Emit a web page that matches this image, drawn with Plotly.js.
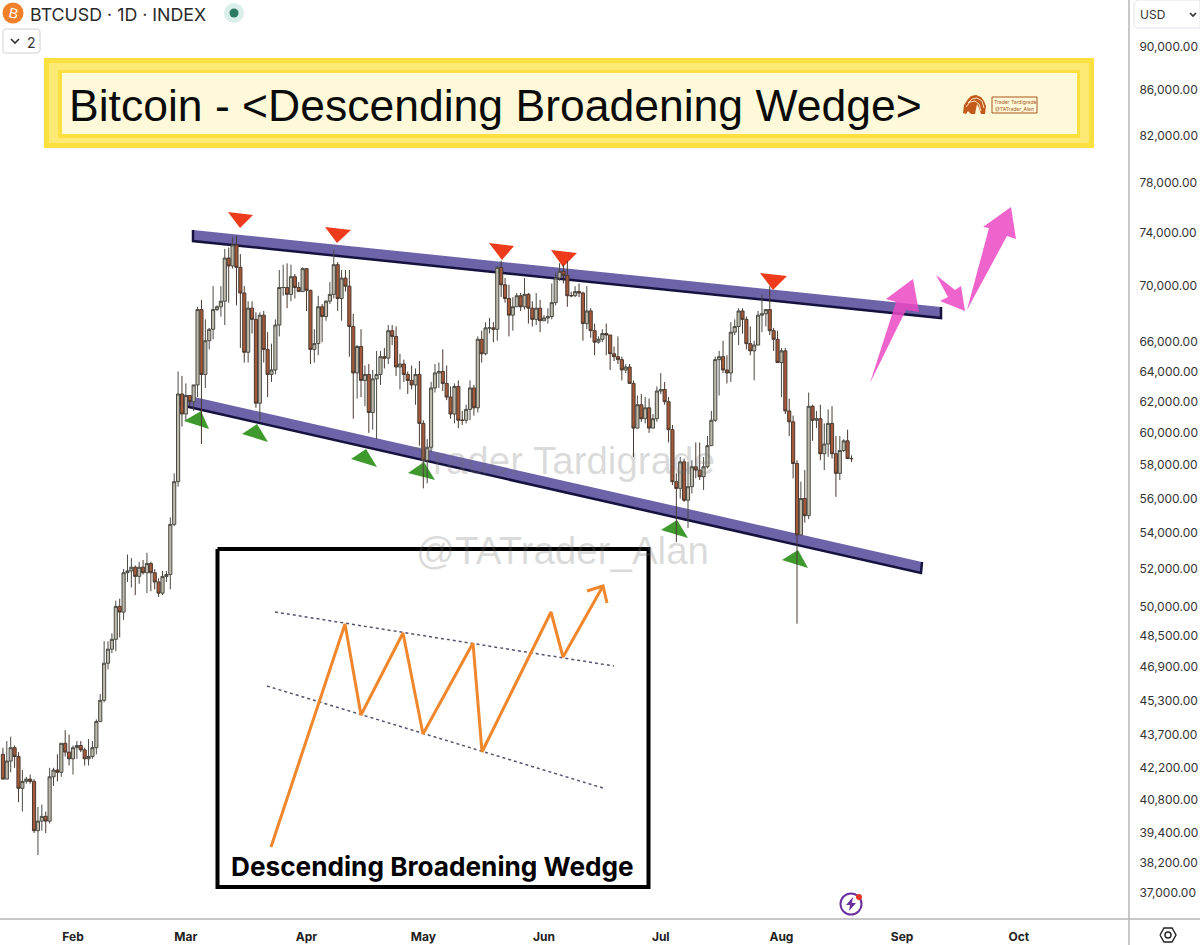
<!DOCTYPE html>
<html><head><meta charset="utf-8">
<script src="https://cdn.plot.ly/plotly-3.0.1.min.js"></script>
<style>html,body{margin:0;padding:0;background:#fff}#chart{width:1200px;height:945px}</style>
</head><body><div id="chart"></div>
<script>
// ---------- daily candles, Jan 14 to Aug 19 2024 ----------
const firstDay = [2024, 0, 14];
const opens = [
42800,41700,42500,43100,42700,41300,41600,41700,41600,39500,39900,40100,39900,41800,42100,42000,43300,42900,
42600,43100,43200,43000,42600,42700,43100,44300,45300,47100,47800,48300,50000,49700,51800,51900,52100,51600,52100,51800,52300,51800,51300,50700,51600,51700,54500,57000,62500,
61200,62400,62000,63100,68300,63800,66100,66900,68300,68500,68900,72100,71500,73100,71400,69500,65300,68400,67600,61900,67900,65500,63800,64100,67200,69900,69900,69400,70700,69900,69600,
71300,69700,65500,65900,68500,67800,68900,69400,71600,69100,70600,70000,67100,63900,65700,63400,63800,61300,63500,63800,65000,64900,66800,66400,64300,64500,63800,63400,63100,63800,
60600,58300,59100,62900,63900,64000,63200,62300,61200,63000,60800,60800,61500,62900,61600,66200,65200,67000,67000,66900,71400,70100,69100,67900,68500,69300,68500,69400,68400,67600,68400,
67500,67700,67800,68800,70600,71100,70800,69300,69300,69600,69500,67300,68200,66800,66000,66200,66600,66500,65200,65000,64800,64100,64300,63200,60300,61800,60900,61600,60300,60900,
62700,62800,62000,60200,57000,56600,58200,55900,56700,57900,57700,57300,57900,59200,60800,64800,65000,64100,63900,66700,67100,68200,67600,65900,65400,65800,67900,68000,68300,66800,66200,
64600,65400,61400,60700,58100,53900,56000,55000,61700,60800,60900,58700,59300,60600,58700,57500,58900,59500,58400];
const highs = [
43100,43400,43600,43200,42900,42100,41800,41900,41700,40500,40600,40300,42200,42200,42800,43300,43900,43700,
43200,43400,43400,43100,43500,43400,44400,45600,48200,48200,48600,50300,50400,52000,52800,52600,52200,52400,52500,52900,52400,52000,51500,51900,51900,54900,57500,64000,63700,
63200,62400,63100,68500,69000,67600,67000,70000,68600,70000,72800,72900,73700,73800,72400,70000,68900,68900,68100,68100,68200,66700,65900,67600,71200,71600,71700,71600,70900,70300,71400,
71300,69700,66900,69300,68700,69000,70300,72700,71800,71200,71200,71200,68000,65800,66900,64400,64500,64100,65400,65400,65600,67200,67200,67100,65200,64800,64000,64400,64200,64700,
60800,59600,63300,64500,64600,65500,64400,63000,63200,63400,61400,61800,63400,63100,66400,66800,67400,67700,67400,71500,71900,70600,70100,69200,69500,69500,70600,69500,68900,69500,69000,
67900,68400,70200,71000,71700,71600,71900,69600,70000,70200,69600,70000,68400,67300,66400,66900,67300,66500,65700,66400,65000,64500,64500,63400,62400,62500,62300,62200,61200,63000,
63900,63300,62300,60500,57500,58500,58400,58200,58300,59400,59400,58500,59800,61400,65000,65400,66100,65100,67400,67600,68400,68400,67800,67100,66100,68200,69400,68300,70000,67000,66800,
65600,65600,62200,61100,58300,57000,57700,62600,61800,61400,61800,60600,61500,61700,59800,59800,59600,60200,58600];
const lows = [
41700,41700,42000,42200,40700,40300,41500,41500,39400,38500,39500,39400,39800,41400,41600,41800,42700,42300,
41900,42600,42900,42300,42300,42600,42800,44300,45200,46800,47600,47700,48400,49300,51300,51000,50600,51200,51700,50700,50800,50900,50500,50600,51300,50900,54400,56700,60400,
60800,61700,61400,62300,59300,62900,65500,66200,68200,67800,67200,68800,71300,68600,65600,64600,64600,66600,61600,60800,64600,62300,63300,63800,66400,69300,68400,68900,69100,69600,69600,
68200,64500,64600,65100,66000,67500,68700,69100,68200,67500,69600,65000,60900,62200,62300,61700,60000,60200,59600,63100,64200,64500,65800,63700,62800,63300,62500,62800,61800,59200,
56600,56900,58800,62600,62900,62700,62100,60900,60600,60300,60500,60600,60800,61100,61300,64600,65100,66600,66000,66100,69200,68800,66400,66800,68500,68200,68300,67300,67100,67200,66700,
67500,67300,67600,68600,70400,70200,68500,69200,69200,69200,66100,66900,66300,65100,65900,66000,65100,64100,64700,64500,63400,63900,63200,58500,60300,60700,60600,60000,60300,60700,
62500,61800,59400,56800,53500,56000,55800,54300,56300,57200,57100,56500,57800,59200,60700,62400,63900,63200,63300,66500,65800,66600,65500,65100,63400,65800,66700,67100,66500,65400,64600,
62300,61200,59800,57200,49100,53900,54600,54800,59500,60300,58300,57700,58500,58400,56100,57100,58800,58400,58200];
const closes = [
41700,42500,43100,42700,41300,41600,41700,41600,39500,39900,40100,39900,41800,42100,42000,43300,42900,42600,
43100,43200,43000,42600,42700,43100,44300,45300,47100,47800,48300,50000,49700,51800,51900,52100,51600,52100,51800,52300,51800,51300,50700,51600,51700,54500,57000,62500,61200,
62400,62000,63100,68300,63800,66100,66900,68300,68500,68900,72100,71500,73100,71400,69500,65300,68400,67600,61900,67900,65500,63800,64100,67200,69900,69900,69400,70700,69900,69600,71300,
69700,65500,65900,68500,67800,68900,69400,71600,69100,70600,70000,67100,63900,65700,63400,63800,61300,63500,63800,65000,64900,66800,66400,64300,64500,63800,63400,63100,63800,60600,
58300,59100,62900,63900,64000,63200,62300,61200,63000,60800,60800,61500,62900,61600,66200,65200,67000,67000,66900,71400,70100,69100,67900,68500,69300,68500,69400,68400,67600,68400,67500,
67700,67800,68800,70600,71100,70800,69300,69300,69600,69500,67300,68200,66800,66000,66200,66600,66500,65200,65000,64800,64100,64300,63200,60300,61800,60900,61600,60300,60900,62700,
62800,62000,60200,57000,56600,58200,55900,56700,57900,57700,57300,57900,59200,60800,64800,65000,64100,63900,66700,67100,68200,67600,65900,65400,65800,67900,68000,68300,66800,66200,64600,
65400,61400,60700,58100,53900,56000,55000,61700,60800,60900,58700,59300,60600,58700,57500,58900,59500,58400,58400];

// ---------- axis labels ----------
const priceTicks = [90000,86000,82000,78000,74000,70000,66000,64000,62000,60000,58000,56000,54000,52000,50000,48500,46900,45300,43700,42200,40800,39400,38200,37000];
const priceTickText = ["90,000.00","86,000.00","82,000.00","78,000.00","74,000.00","70,000.00","66,000.00","64,000.00","62,000.00","60,000.00","58,000.00","56,000.00","54,000.00","52,000.00","50,000.00","48,500.00","46,900.00","45,300.00","43,700.00","42,200.00","40,800.00","39,400.00","38,200.00","37,000.00"];
const monthTicks = ["2024-02-01","2024-03-01","2024-04-01","2024-05-01","2024-06-01","2024-07-01","2024-08-01","2024-09-01","2024-10-01"];
const monthText = ["Feb","Mar","Apr","May","Jun","Jul","Aug","Sep","Oct"];

// ---------- hand-drawn overlay, in page-frame coordinates ----------
const upperBandX = [193,193,941,941], upperBandY = [230,241,318,307];
const lowerBandX = [181,180,921,922], lowerBandY = [394,405,573,562];
const redTriangles = [
 [[228,253,240],[212,215,228]],[[325,351,337],[227,230,243]],[[489,514,502],[243,246,260]],
 [[551,577,563],[250,253,267]],[[760,787,773],[273,276,290]]];
const greenTriangles = [
 [[184,209,201],[421,429,411]],[[242,268,257],[434,442,424]],[[351,377,366],[459,467,449]],
 [[408,435,424],[473,480,462]],[[661,688,677],[530,538,520]],[[782,808,798],[560,568,550]]];
const pinkArrows = [
 [[870,896,886,913,919,906],[383,302,299,279,312,310]],
 [[936,955,961,965,940,948],[275,290,286,311,301,297]],
 [[967,989,983,1011,1016,1007],[310,228,227,207,239,236]]];
const bannerRects = [
 [44,58,1094,148,"#fbe03f"],[49,63,1089,143,"#fdea74"],[58,70,1080,138,"#fbe03f"],[62,73,1077,134,"#fefad9"]];
const insetBoxX = [217.5,648.5,648.5,217.5,217.5], insetBoxY = [549,549,887,887,549];
const insetPathX = [271,345,361,403,423,473,482,551,563,603], insetPathY = [847,624,715,633,734,643,752,612,657,586];
const insetHeadX = [587,603,607], insetHeadY = [591,586,603];
const insetUpperX = [275,614], insetUpperY = [612,666];
const insetLowerX = [267,603], insetLowerY = [686,788];
const logoDomeX = [963,964,968,971,976,981,984,986,985,981,979,977,975,971,968,966,963];
const logoDomeY = [113,105,99,96,95,97,101,106,114,114,108,104,114,114,111,114,113];
const logoStripeAX = [968,972,977,982,984], logoStripeAY = [103,99,98,101,108];
const logoStripeBX = [966,970,975,979,981], logoStripeBY = [107,102,101,104,111];
const logoBoxX = [992,1037,1037,992,992], logoBoxY = [97,97,113,113,97];
const hexX = [1160,1164,1172,1176,1172,1164,1160], hexY = [935,928,928,935,942,942,935];
const boltX = [853,846,850,849,856,852,853], boltY = [897,905,905,911,903,903,897];

// ---------- traces ----------
const dates = opens.map((_, i) => new Date(Date.UTC(firstDay[0], firstDay[1], firstDay[2] + i)).toISOString().slice(0, 10));
const fillPoly = (xs, ys, fill, lineColor, lineWidth) => ({
  type:'scatter', mode:'lines', x:xs, y:ys, xaxis:'x', yaxis:'y', fill:'toself', fillcolor:fill,
  line:{color:lineColor||fill, width:lineWidth===undefined?0:lineWidth, shape:'linear'}, hoverinfo:'skip', showlegend:false });
const stroke = (xs, ys, color, width, dash) => ({
  type:'scatter', mode:'lines', x:xs, y:ys, xaxis:'x', yaxis:'y',
  line:{color, width, dash:dash||'solid'}, hoverinfo:'skip', showlegend:false });
const dot = (x, y, size, color, symbol, lw) => ({
  type:'scatter', mode:'markers', x:[x], y:[y], xaxis:'x', yaxis:'y',
  marker:{size, color, symbol:symbol||'circle', line:{width:lw||0, color}}, hoverinfo:'skip', showlegend:false });
const rectXs = r => [r[0],r[2],r[2],r[0],r[0]];
const rectYs = r => [r[1],r[1],r[3],r[3],r[1]];

const traces = [];
bannerRects.forEach(r => traces.push(fillPoly(rectXs(r), rectYs(r), r[4])));
traces.push(fillPoly(logoDomeX, logoDomeY, '#c4591c'));
traces.push(stroke(logoStripeAX, logoStripeAY, '#fbe6c4', 1));
traces.push(stroke(logoStripeBX, logoStripeBY, '#fbe6c4', 1));
traces.push(fillPoly(logoBoxX, logoBoxY, 'rgba(0,0,0,0)', '#a9561f', 1));
traces.push(fillPoly(upperBandX, upperBandY, '#6c63a9', '#15123f', 2.5));
traces.push(fillPoly(lowerBandX, lowerBandY, '#6c63a9', '#15123f', 2.5));
traces.push(fillPoly(insetBoxX, insetBoxY, '#ffffff', '#000000', 4));
traces.push(stroke(insetUpperX, insetUpperY, '#55556e', 1.5, 'dot'));
traces.push(stroke(insetLowerX, insetLowerY, '#55556e', 1.5, 'dot'));
traces.push(stroke(insetPathX, insetPathY, '#f0872c', 3));
traces.push(stroke(insetHeadX, insetHeadY, '#f0872c', 3));
redTriangles.forEach(t => traces.push(fillPoly(t[0], t[1], '#ee3b1b')));
greenTriangles.forEach(t => traces.push(fillPoly(t[0], t[1], '#3f9a2e')));
pinkArrows.forEach(t => traces.push(fillPoly(t[0], t[1], 'rgba(236,72,196,0.85)')));
// frame lines
traces.push(stroke([1129,1129],[0,945],'#b6b6b6',1.5));
traces.push(stroke([0,1200],[919,919],'#b6b6b6',1.5));
// header widgets
traces.push(dot(13,13,21,'#f0802a'));
traces.push(dot(234,13,20,'#d9f0ea'));
traces.push(dot(234,13,9,'#2b7a63'));
traces.push(fillPoly([5,38,40,40,38,5,3,3,5],[29,29,31,51,53,53,51,31,29],'#ffffff','#cfd1d6',1));
traces.push(stroke([11,15,19],[39,43,39],'#333333',1.6));
traces.push(fillPoly([1137,1200,1200,1137,1134,1134,1137],[0,0,28,28,25,3,0],'#ffffff','#e0e3ea',1));
traces.push(stroke([1190,1193,1196],[13,16,13],'#333333',1.6));
// footer icons
traces.push(dot(851,904,21,'#6b2fa0','circle-open',2));
traces.push(fillPoly(boltX, boltY, '#6b2fa0'));
traces.push(dot(859,897,6,'#e53525'));
traces.push(stroke(hexX, hexY, '#222222', 1.4));
traces.push(dot(1168,935,6,'#222222','circle-open',1.4));

traces.push({
  type:'candlestick', x:dates, open:opens, high:highs, low:lows, close:closes,
  xaxis:'x2', yaxis:'y2', whiskerwidth:0, hoverinfo:'skip', showlegend:false,
  increasing:{line:{color:'#4a4a44',width:1},fillcolor:'#bdbaac'},
  decreasing:{line:{color:'#4a3a30',width:1},fillcolor:'#a5593a'}
});

const pageNote = (text, x, y, size, color, extra) => Object.assign({
  text, x, y, xref:'x', yref:'y', showarrow:false, xanchor:'left', yanchor:'middle',
  font:{family:'Inter, "Liberation Sans", sans-serif', size, color}}, extra||{});
const annotations = [
  pageNote('BTCUSD · 1D · INDEX', 28, 14, 17.8, '#2a2a2a'),
  pageNote('B', 13, 13, 13, '#ffffff', {xanchor:'center', textangle:12, font:{family:'Liberation Sans', size:14, color:'#fff'}}),
  pageNote('2', 31, 42, 14, '#333333', {xanchor:'center'}),
  pageNote('USD', 1138, 14.5, 12, '#333333'),
  pageNote('Bitcoin - &lt;Descending Broadening Wedge&gt;', 67, 105, 44.5, '#0b0b0b', {font:{family:'"Liberation Sans", Arial, sans-serif', size:44.5, color:'#0b0b0b'}}),
  pageNote('Trader Tardigrade', 1014.5, 101.5, 5, '#a9561f', {xanchor:'center', font:{family:'Inter', size:5, color:'#a9561f'}}),
  pageNote('@TATrader_Alan', 1014.5, 108.5, 5, '#a9561f', {xanchor:'center', font:{family:'Inter', size:5, color:'#a9561f'}}),
  pageNote('Trader Tardigrade', 409, 460, 38.5, 'rgba(110,110,110,0.25)', {font:{family:'"Liberation Sans"', size:38.5, color:'rgba(110,110,110,0.25)'}}),
  pageNote('@TATrader_Alan', 414, 550, 38.5, 'rgba(110,110,110,0.25)', {font:{family:'"Liberation Sans"', size:38.5, color:'rgba(110,110,110,0.25)'}}),
  pageNote('<b>Descending Broadening Wedge</b>', 432, 866, 26.2, '#000000', {xanchor:'center'})
];

const layout = {
  width:1200, height:945, margin:{l:0,r:0,t:0,b:0}, showlegend:false,
  paper_bgcolor:'#ffffff', plot_bgcolor:'rgba(0,0,0,0)', boxgap:0.15, boxgroupgap:0.05,
  xaxis:{domain:[0,1], range:[0,1200], visible:false, fixedrange:true},
  yaxis:{domain:[0,1], range:[945,0], visible:false, fixedrange:true},
  xaxis2:{domain:[0,1129/1200], anchor:'y2', type:'date', range:['2024-01-13 06:00','2024-10-29 07:00'],
    rangeslider:{visible:false}, showgrid:false, zeroline:false, showline:false,
    tickmode:'array', tickvals:monthTicks, ticktext:monthText, ticks:'outside', ticklen:7, tickcolor:'rgba(0,0,0,0)',
    tickfont:{family:'Inter, sans-serif', size:12, color:'#222', weight:700}, fixedrange:true},
  yaxis2:{domain:[26/945,1], anchor:'x2', side:'right', type:'log',
    range:[Math.log10(36000), Math.log10(94557)], showgrid:false, zeroline:false, showline:false,
    tickmode:'array', tickvals:priceTicks, ticktext:priceTickText, ticks:'outside', ticklen:7, tickcolor:'rgba(0,0,0,0)',
    tickfont:{family:'Inter, sans-serif', size:12, color:'#333'}, fixedrange:true},
  annotations
};
Plotly.newPlot('chart', traces, layout, {displayModeBar:false, staticPlot:true});
</script></body></html>
